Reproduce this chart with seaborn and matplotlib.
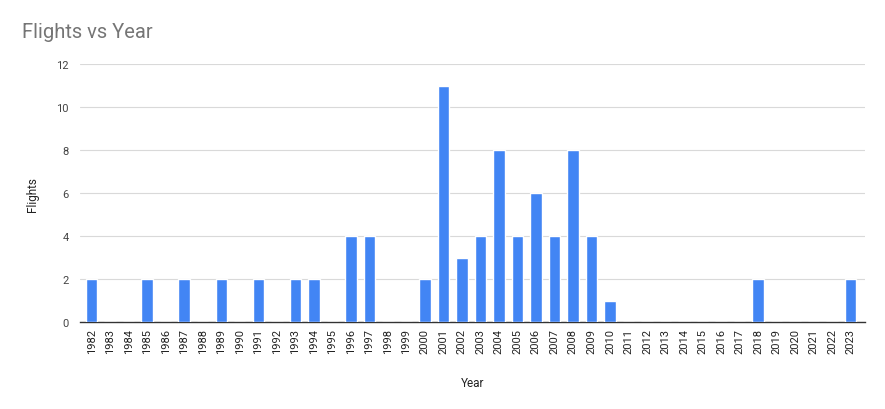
import pandas as pd
import matplotlib
matplotlib.use("Agg")
import matplotlib.pyplot as plt
import seaborn as sns

years = list(range(1982, 2024))
flights = [2, 0, 0, 2, 0, 2, 0, 2, 0, 2, 0, 2, 2, 0, 4, 4, 0, 0, 2, 11,
           3, 4, 8, 4, 6, 4, 8, 4, 1, 0, 0, 0, 0, 0, 0, 0, 2, 0, 0, 0,
           0, 2]

def gerar_grafico():
    df = pd.DataFrame({'Year': [str(y) for y in years], 'Flights': flights})

    sns.set_theme(style="white")
    plt.rcParams['font.family'] = ['Roboto', 'DejaVu Sans']

    fig = plt.figure(figsize=(8.85, 4.1), dpi=100)
    ax = fig.add_axes([0.090, 0.212, 0.887, 0.629])

    sns.barplot(data=df, x='Year', y='Flights', color='#4285F4',
                width=0.62, saturation=1, ax=ax, zorder=3)

    ax.set_ylim(0, 12)
    ax.set_yticks(range(0, 13, 2))
    ax.yaxis.grid(True, color='#d9d9d9', linewidth=0.8, zorder=0)
    ax.set_axisbelow(True)
    ax.set_xlim(-0.65, 41.76)

    for s in ['top', 'right', 'left']:
        ax.spines[s].set_visible(False)
    ax.spines['bottom'].set_color('#333333')
    ax.spines['bottom'].set_linewidth(1)

    ax.tick_params(axis='x', rotation=90, labelsize=8, length=0, pad=4, colors='#222222')
    ax.tick_params(axis='y', labelsize=8, length=0, pad=8, colors='#444444')

    ax.set_xlabel('Year', fontsize=8.5, color='#222222', labelpad=17)
    ax.set_ylabel('Flights', fontsize=8.5, color='#222222', labelpad=12)

    fig.text(0.025, 0.92, 'Flights vs Year', fontsize=14.5, color='#757575', ha='left', va='center')

    fig.savefig('out.png', dpi=100)

if __name__ == "__main__":
    gerar_grafico()
